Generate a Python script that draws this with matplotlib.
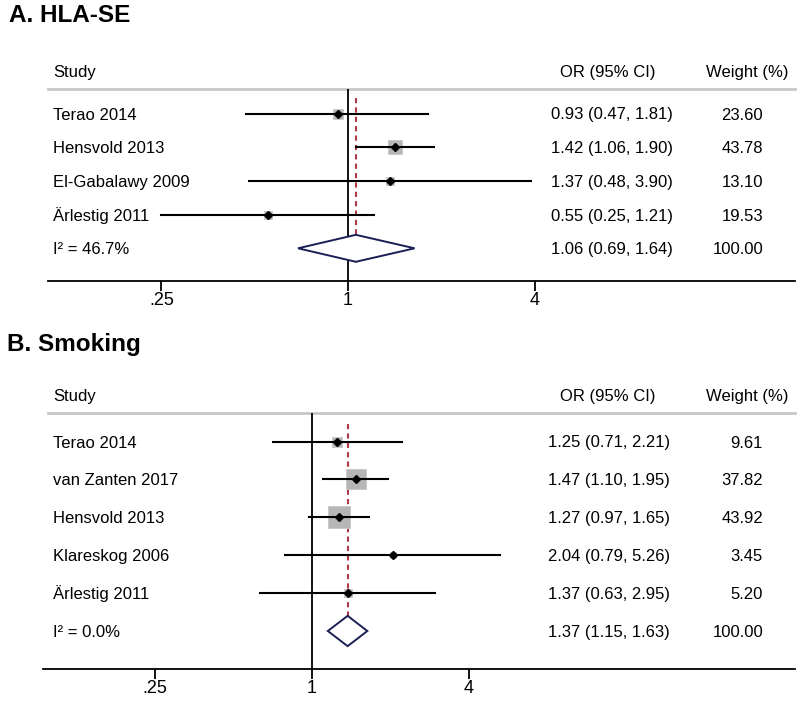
import numpy as np
import matplotlib
matplotlib.use("Agg")
import matplotlib.pyplot as plt
import matplotlib.transforms as mtransforms
from matplotlib.patches import Polygon

plt.rcParams['font.family'] = ['Liberation Sans', 'DejaVu Sans']

# panel A: HLA-SE
a_studies = ["Terao 2014", "Hensvold 2013", "El-Gabalawy 2009", "Ärlestig 2011"]
a_or = [0.93, 1.42, 1.37, 0.55]
a_lo = [0.47, 1.06, 0.48, 0.25]
a_hi = [1.81, 1.90, 3.90, 1.21]
a_weight = [23.60, 43.78, 13.10, 19.53]
a_pooled = (1.06, 0.69, 1.64)
a_i2 = "I² = 46.7%"

# panel B: Smoking
b_studies = ["Terao 2014", "van Zanten 2017", "Hensvold 2013", "Klareskog 2006", "Ärlestig 2011"]
b_or = [1.25, 1.47, 1.27, 2.04, 1.37]
b_lo = [0.71, 1.10, 0.97, 0.79, 0.63]
b_hi = [2.21, 1.95, 1.65, 5.26, 2.95]
b_weight = [9.61, 37.82, 43.92, 3.45, 5.20]
b_pooled = (1.37, 1.15, 1.63)
b_i2 = "I² = 0.0%"

tick_vals = [0.25, 1, 4]
tick_labels = [".25", "1", "4"]

W, H = 800, 701
fig = plt.figure(figsize=(W / 100, H / 100), dpi=100)

FS = 12
NAVY = "#1b1f55"
RED = "#ad3a48"


def px_x(x):
    return x / W


def px_y(y):
    return 1 - y / H


def panel(title, title_x, title_y, top, bottom, axis_left, one_px, log2_px, box_k,
          studies, est, lo, hi, weight, pooled, i2, first_row, row_step, or_right):
    # axes spans the axis line horizontally, separator to axis line vertically
    right = 795
    ax = fig.add_axes([px_x(axis_left), px_y(bottom), px_x(right - axis_left), (bottom - top) / H])
    ax.set_xscale('log', base=2)
    ax.set_xlim(2 ** ((axis_left - one_px) / log2_px), 2 ** ((right - one_px) / log2_px))
    n = len(studies)
    ylo = (top - first_row) / row_step
    yhi = (bottom - first_row) / row_step
    ax.set_ylim(yhi, ylo)
    ax.patch.set_visible(False)
    for s in ['top', 'left', 'right']:
        ax.spines[s].set_visible(False)
    ax.spines['bottom'].set_linewidth(1.3)
    ax.set_yticks([])
    ax.set_xticks(tick_vals)
    ax.set_xticklabels(tick_labels)
    ax.xaxis.set_minor_locator(matplotlib.ticker.NullLocator())
    ax.tick_params(axis='x', length=7, width=1.3, labelsize=13, pad=1)

    # text rows: x in figure fraction, y in row units, drawn on the baseline
    tr = mtransforms.blended_transform_factory(fig.transFigure, ax.transData)
    tr_txt = mtransforms.offset_copy(tr, fig=fig, y=-6 * 0.72, units='points')

    # separator line (starts at the text margin)
    ax.plot([px_x(48), px_x(right)], [ylo, ylo], transform=tr,
            color="#c8c8c8", lw=2, clip_on=False)
    # null line
    ax.axvline(1, color="black", lw=1.3)
    # pooled line
    ax.plot([pooled[0], pooled[0]], [-0.47, n + 0.47], color=RED, lw=1.5,
            ls=(0, (2.5, 2)), zorder=2)

    rows = np.arange(n)
    for r, e, l, h, w in zip(rows, est, lo, hi, weight):
        side = box_k * np.sqrt(w) * 0.72
        ax.scatter([e], [r], marker='s', s=side ** 2, color="#b6b6b6",
                   edgecolors="#c6c6c6", linewidths=0.6, zorder=3)
        ax.plot([l, h], [r, r], color="black", lw=1.5, zorder=4)
        ax.plot([e], [r], marker='D', ms=3.8, color="black", zorder=5)

    pe, pl, ph = pooled
    dia = Polygon([(pl, n), (pe, n - 0.4), (ph, n), (pe, n + 0.4)], closed=True,
                  facecolor="white", edgecolor=NAVY, lw=1.4, zorder=4)
    ax.add_patch(dia)

    hdr = (top - 18 - first_row) / row_step
    ax.text(px_x(53), hdr, "Study", transform=tr_txt, fontsize=FS, va='baseline', ha='left')
    ax.text(px_x(608), hdr, "OR (95% CI)", transform=tr_txt, fontsize=FS, va='baseline', ha='center')
    ax.text(px_x(747), hdr, "Weight (%)", transform=tr_txt, fontsize=FS, va='baseline', ha='center')

    labels = list(studies) + [i2]
    ests = list(est) + [pe]
    los = list(lo) + [pl]
    his = list(hi) + [ph]
    wts = list(weight) + [100.0]
    for r in range(n + 1):
        ax.text(px_x(53), r, labels[r], transform=tr_txt, fontsize=FS, va='baseline', ha='left')
        ax.text(px_x(or_right), r, f"{ests[r]:.2f} ({los[r]:.2f}, {his[r]:.2f})",
                transform=tr_txt, fontsize=FS, va='baseline', ha='right')
        ax.text(px_x(763), r, f"{wts[r]:.2f}", transform=tr_txt, fontsize=FS,
                va='baseline', ha='right')

    fig.text(px_x(title_x), px_y(title_y), title, fontsize=17.5, fontweight='bold',
             va='center', ha='left')
    return ax


panel("A. HLA-SE", 9, 16, 89, 281, 48, 348, 93.3, 2.0,
      a_studies, a_or, a_lo, a_hi, a_weight, a_pooled, a_i2, 113.5, 33.7, 673)
panel("B. Smoking", 7, 345, 413, 669, 43, 312, 78.5, 3.3,
      b_studies, b_or, b_lo, b_hi, b_weight, b_pooled, b_i2, 441.5, 37.9, 670)

fig.savefig("out.png", dpi=100)
